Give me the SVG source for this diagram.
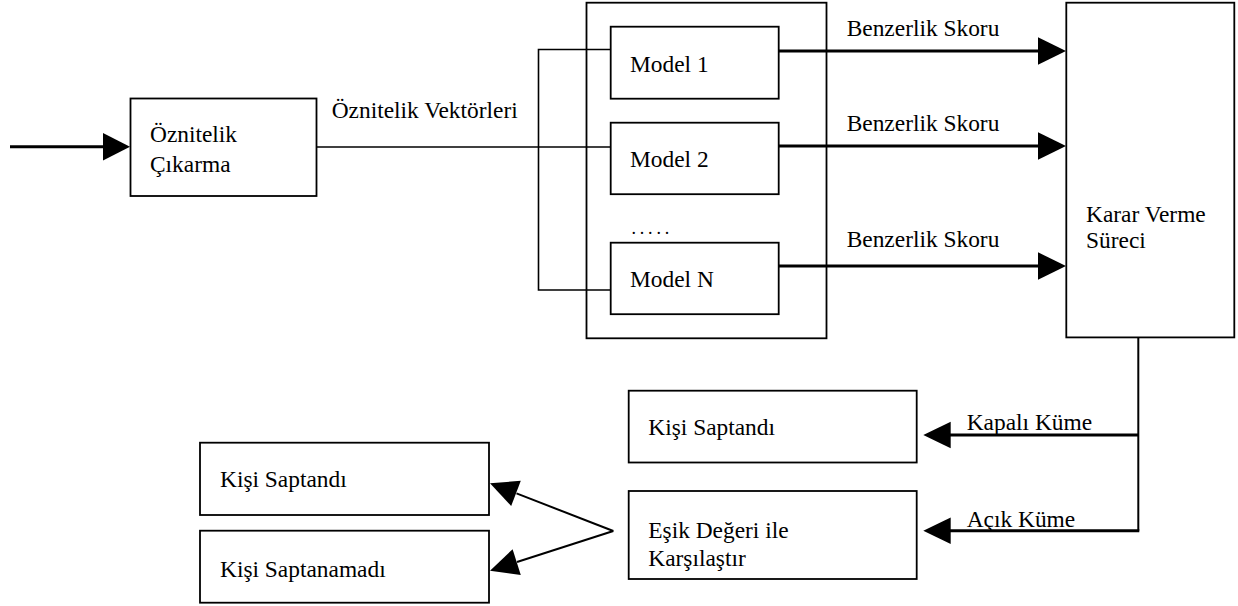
<svg xmlns="http://www.w3.org/2000/svg" width="1238" height="606" viewBox="0 0 1238 606">
<style>
.box{fill:#fff;stroke:#000;stroke-width:1.8}
.frame{fill:none;stroke:#000;stroke-width:1.8}
.thin{fill:none;stroke:#000;stroke-width:1.6}
.thick{fill:none;stroke:#000;stroke-width:3}
.mid{fill:none;stroke:#000;stroke-width:2}
.head{fill:#000;stroke:none}
text{font-family:"Liberation Serif","Times New Roman",serif;font-size:23.4px;fill:#000}
</style>
<rect width="1238" height="606" fill="#fff"/>
<g id="model-group"><rect class="frame" x="586.5" y="2.7" width="240" height="335.6"/></g>
<g id="connectors">
<line class="thick" x1="10" y1="146.7" x2="104" y2="146.7"/>
<polygon class="head" points="130,146.7 103,133 103,160.4"/>
<line class="thin" x1="316" y1="147" x2="610.7" y2="147"/>
<polyline class="thin" points="610.7,49.5 538.5,49.5 538.5,290 610.7,290"/>
<line class="thick" x1="778.5" y1="51" x2="1040" y2="51"/>
<polygon class="head" points="1066,51 1038,37.3 1038,64.7"/>
<line class="thick" x1="778.5" y1="146" x2="1040" y2="146"/>
<polygon class="head" points="1066,146 1038,132.3 1038,159.7"/>
<line class="thick" x1="778.5" y1="266" x2="1040" y2="266"/>
<polygon class="head" points="1066,266 1038,252.3 1038,279.7"/>
<polyline class="mid" points="1138.3,337.5 1138.3,530.7"/>
<line class="thick" x1="1139" y1="435" x2="949" y2="435"/>
<polygon class="head" points="923.3,435 950.7,421.7 950.7,448.3"/>
<line class="thick" x1="1139.3" y1="530.7" x2="949" y2="530.7"/>
<polygon class="head" points="923.3,530.7 950.7,517.4 950.7,544"/>
<line class="mid" x1="613.3" y1="531" x2="516.5" y2="493.4"/>
<polygon class="head" points="490,483.3 520.8,480.8 511.2,506"/>
<line class="mid" x1="613.3" y1="531" x2="517" y2="562"/>
<polygon class="head" points="490,570.7 520.8,575 512.6,549.2"/>
<text x="331.7" y="118.3">Öznitelik Vektörleri</text>
<text x="846.7" y="35.5">Benzerlik Skoru</text>
<text x="846.7" y="130.7">Benzerlik Skoru</text>
<text x="846.7" y="247">Benzerlik Skoru</text>
<text x="966.7" y="430">Kapalı Küme</text>
<text x="966.7" y="526.7">Açık Küme</text>
</g>
<g id="oznitelik-cikarma"><rect class="box" x="130.5" y="98.5" width="186" height="97.5"/><text x="150" y="141.7">Öznitelik</text><text x="150" y="171.7">Çıkarma</text></g>
<g id="model-1"><rect class="box" x="610.7" y="26.7" width="168" height="72"/><text x="630" y="71.7">Model 1</text></g>
<g id="model-2"><rect class="box" x="610.7" y="122.7" width="168" height="71.5"/><text x="630" y="166.7">Model 2</text></g>
<g id="dots"><text x="631.5" y="234" style="font-size:18px;letter-spacing:3.8px">.....</text></g>
<g id="model-n"><rect class="box" x="610.7" y="242.7" width="168" height="71.5"/><text x="630" y="287">Model N</text></g>
<g id="karar-verme"><rect class="box" x="1066.3" y="2.7" width="168" height="334.7"/><text x="1086" y="221.7">Karar Verme</text><text x="1086" y="248.3">Süreci</text></g>
<g id="kisi-saptandi-1"><rect class="box" x="628.7" y="390.7" width="288" height="71.8"/><text x="648.3" y="435">Kişi Saptandı</text></g>
<g id="esik-degeri"><rect class="box" x="628.7" y="491" width="288" height="88"/><text x="648.3" y="538.3">Eşik Değeri ile</text><text x="648.3" y="565.7">Karşılaştır</text></g>
<g id="kisi-saptandi-2"><rect class="box" x="200" y="442.7" width="289" height="72.3"/><text x="220" y="486.7">Kişi Saptandı</text></g>
<g id="kisi-saptanamadi"><rect class="box" x="200" y="530.7" width="289" height="72"/><text x="220" y="576.7">Kişi Saptanamadı</text></g>
</svg>
